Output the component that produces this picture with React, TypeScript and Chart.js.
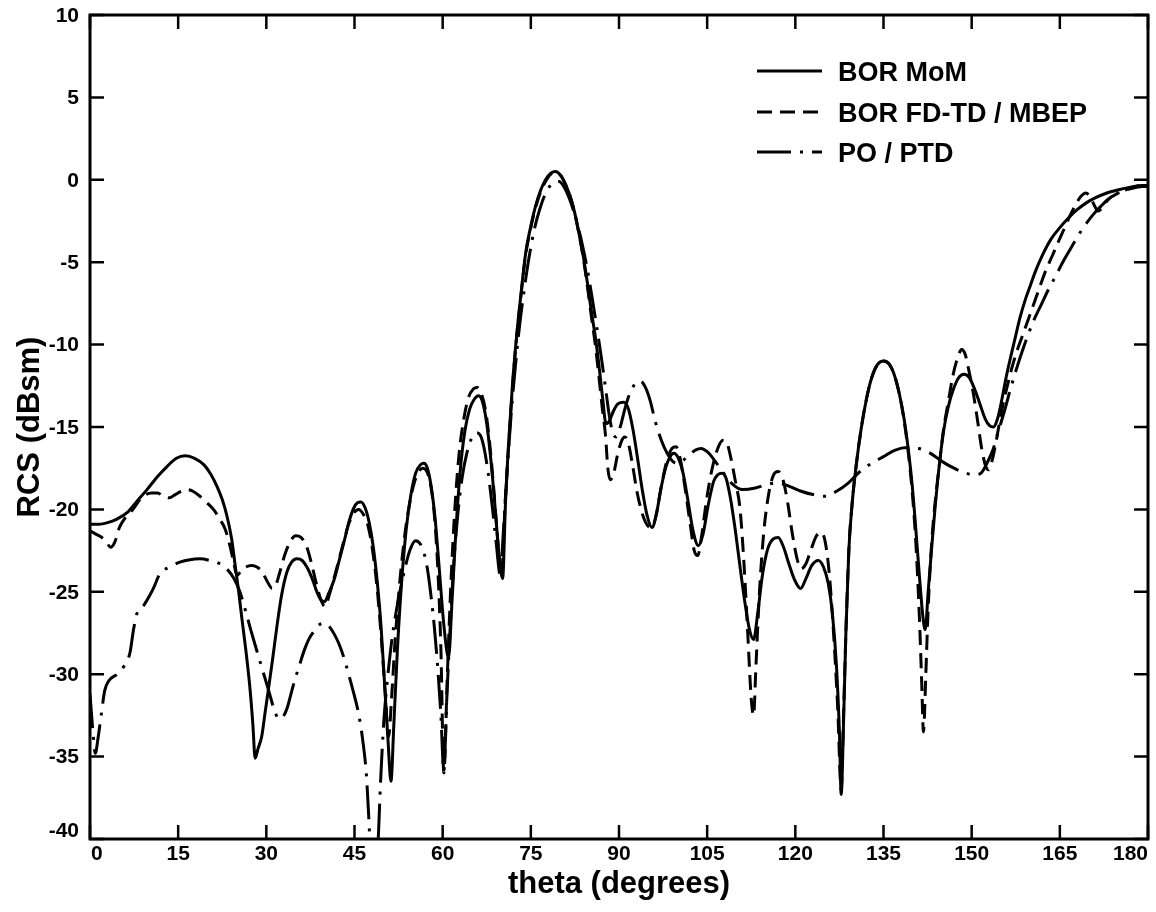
import React, { useEffect, useRef } from 'react';
import { Chart, registerables } from 'chart.js';

Chart.register(...registerables);

// ---------------- DATA ----------------
const xTicks = [0, 15, 30, 45, 60, 75, 90, 105, 120, 135, 150, 165, 180];
const yTicks = [10, 5, 0, -5, -10, -15, -20, -25, -30, -35, -40];
const xTitle = 'theta (degrees)';
const yTitle = 'RCS (dBsm)';
const seriesNames = ['BOR MoM', 'BOR FD-TD / MBEP', 'PO / PTD'];

// BOR MoM (solid)
const thetaMoM = [
  0, 1.5, 3, 4.5, 6.3, 8, 9.7, 11.5, 13.1, 14.7, 16.2, 17.8, 19.4, 20.6, 21.6, 22.5, 23.3, 24.1, 24.7, 25.3,
  25.8, 26.5, 27.2, 27.7, 28.1, 28.6, 29.2, 29.8, 30.4, 31.1, 31.8, 32.6, 33.5, 34.3, 35.2, 36.1, 36.9, 37.8, 38.6, 39.3,
  39.9, 40.6, 41.5, 42.4, 43.2, 44.1, 44.9, 45.5, 46.1, 46.8, 47.5, 48.2, 48.9, 49.5, 50.1, 50.7, 51.2, 51.7, 52.3, 53,
  53.8, 54.6, 55.4, 56.2, 56.8, 57.4, 58, 58.7, 59.4, 60.2, 61, 61.6, 62.3, 63, 63.8, 64.6, 65.4, 66.1, 66.8, 67.5,
  68.2, 68.9, 69.6, 70.2, 70.7, 71.3, 71.9, 72.6, 73.3, 74.1, 75, 75.8, 76.6, 77.5, 78.4, 79.2, 80, 80.8, 81.6, 82.4,
  83.1, 83.9, 84.6, 85.3, 86, 86.6, 87.2, 87.8, 88.4, 89.1, 89.8, 90.8, 91.6, 92.4, 93.2, 94, 94.8, 95.6, 96.3, 97.1,
  98, 98.7, 99.3, 100.1, 100.9, 101.7, 102.6, 103.5, 104.3, 105.2, 106.1, 106.8, 107.5, 108.2, 109, 109.8, 110.6, 111.4, 112.2, 112.9,
  113.6, 114.4, 115.3, 116.2, 117.1, 118, 118.9, 119.9, 120.9, 121.8, 122.8, 123.9, 124.8, 125.6, 126.3, 127, 127.5, 127.8, 128.2, 128.6,
  129.1, 129.7, 130.4, 131.2, 132.1, 133, 134, 135, 136, 136.9, 137.7, 138.5, 139.2, 139.9, 140.5, 141.1, 141.7, 142.1, 142.6, 143.2,
  143.8, 144.5, 145.2, 146, 146.9, 147.8, 148.7, 149.6, 150.5, 151.4, 152.3, 153, 153.7, 154.4, 155.1, 155.8, 156.6, 157.4, 158.2, 159.1,
  160, 160.8, 162, 163.5, 165, 166.5, 168, 169.5, 171, 173, 175, 177, 179, 180,
];
const rcsMoM = [
  -20.9, -20.9, -20.8, -20.6, -20.2, -19.5, -18.8, -18.0, -17.4, -16.9, -16.75, -16.9, -17.3, -17.9, -18.6, -19.4, -20.4, -21.8, -23.4, -25.0,
  -26.5, -28.5, -30.8, -33.0, -35.1, -34.5, -33.8, -32.3, -30.8, -29.0, -27.1, -25.2, -23.8, -23.2, -23.0, -23.1, -23.5, -24.2, -25.0, -25.5,
  -25.6, -25.1, -24.3, -23.1, -22.0, -20.7, -19.9, -19.6, -19.55, -19.9, -20.8, -22.3, -24.5, -27.0, -30.5, -34.0, -36.5, -33.0, -28.5, -24.5,
  -21.2, -19.1, -17.8, -17.3, -17.2, -17.5, -18.5, -20.5, -23.5, -27.0, -29.0, -25.5, -21.0, -17.6, -15.2, -13.9, -13.3, -13.1, -13.5, -14.8,
  -17.0, -19.8, -22.8, -24.2, -19.5, -15.5, -12.3, -9.4, -7.0, -4.5, -2.8, -1.6, -0.7, 0.0, 0.4, 0.5, 0.3, -0.2, -0.9, -1.9,
  -3.1, -4.6, -6.2, -8.0, -9.6, -11.3, -13.2, -14.8, -14.6, -14.0, -13.6, -13.5, -13.9, -15.2, -17.0, -18.9, -20.4, -21.1, -20.4, -18.8,
  -17.4, -16.8, -16.6, -16.9, -17.8, -19.4, -21.3, -22.2, -21.5, -19.7, -18.3, -17.9, -17.8, -18.1, -19.4, -21.3, -23.5, -25.6, -27.3, -27.9,
  -26.3, -24.0, -22.4, -21.8, -21.7, -22.3, -23.3, -24.3, -24.8, -24.2, -23.4, -23.1, -23.5, -24.5, -26.3, -29.5, -33.5, -37.3, -33.0, -27.5,
  -22.5, -19.5, -17.2, -15.1, -13.3, -12.0, -11.2, -11.0, -11.2, -11.9, -13.0, -14.5, -16.3, -18.6, -21.2, -24.0, -26.5, -27.3, -25.0, -22.3,
  -19.8, -17.3, -15.3, -13.8, -12.7, -12.0, -11.8, -12.0, -12.7, -13.6, -14.5, -14.9, -15.0, -14.5, -13.4, -12.1, -10.8, -9.6, -8.4, -7.3,
  -6.4, -5.6, -4.6, -3.6, -2.9, -2.3, -1.8, -1.4, -1.1, -0.8, -0.6, -0.45, -0.35, -0.35,
];

// BOR FD-TD / MBEP (dashed)
const thetaFDTD = [
  0, 1, 2, 2.8, 3.5, 4.2, 5, 5.8, 6.6, 7.5, 8.5, 9.5, 10.5, 11.5, 12.5, 13.5, 14.5, 15.5, 16.5, 17.5,
  18.7, 19.9, 21, 22.1, 23, 23.8, 24.5, 25, 25.6, 26.5, 27.5, 28.4, 29.3, 30.2, 31, 31.6, 32.3, 33.1, 34, 35,
  35.9, 36.9, 37.7, 38.5, 39.3, 40, 40.7, 41.5, 42.4, 43.2, 44.1, 44.9, 45.7, 46.5, 47.3, 48, 48.8, 49.5, 50.2, 50.8,
  51.3, 51.9, 52.6, 53.4, 54.2, 55, 55.8, 56.6, 57.3, 58, 58.6, 59.2, 59.7, 60.2, 60.8, 61.4, 62.1, 62.8, 63.6, 64.4,
  65.2, 65.9, 66.6, 67.3, 68, 68.7, 69.4, 70, 70.6, 71.3, 71.9, 72.6, 73.3, 74.1, 75, 75.8, 76.6, 77.5, 78.4, 79.2,
  80, 80.8, 81.6, 82.4, 83.1, 83.9, 84.6, 85.3, 86, 86.6, 87.2, 87.7, 88.1, 88.5, 89.1, 89.8, 90.5, 91, 91.6, 92.3,
  93.1, 94, 94.9, 95.6, 96.4, 97.2, 98.1, 99, 99.7, 100.4, 101.2, 102, 102.8, 103.4, 104.1, 104.9, 105.8, 106.8, 107.7, 108.4,
  109.1, 109.8, 110.6, 111.3, 111.9, 112.5, 112.9, 113.3, 113.9, 114.6, 115.4, 116.3, 117.1, 117.9, 118.7, 119.5, 120.3, 121, 121.8, 122.7,
  123.6, 124.4, 125.1, 125.8, 126.5, 127.2, 127.8, 128.2, 128.6, 129.1, 129.7, 130.4, 131.2, 132.1, 133, 134, 135, 136, 136.9, 137.7,
  138.5, 139.2, 139.9, 140.5, 141.1, 141.5, 141.8, 142.2, 142.6, 143.2, 143.8, 144.5, 145.2, 146, 146.8, 147.6, 148.3, 148.9, 149.6, 150.3,
  151, 151.7, 152.4, 152.9, 153.5, 154.2, 155, 155.8, 156.7, 157.6, 158.5, 159.4, 160.3, 161.3, 162.5, 163.6, 164.7, 165.7, 166.7, 167.7,
  168.6, 169.4, 170.1, 170.8, 171.5, 172.2, 173.2, 175, 177, 179, 180,
];
const rcsFDTD = [
  -21.3, -21.5, -21.7, -22.0, -22.3, -22.0, -21.1, -20.6, -20.3, -19.9, -19.4, -19.1, -19.0, -19.0, -19.2, -19.3, -19.1, -18.9, -18.8, -18.9,
  -19.2, -19.6, -20.0, -20.6, -21.2, -22.2, -23.3, -24.0, -23.8, -23.5, -23.4, -23.5, -23.8, -24.4, -24.8, -24.6, -23.8, -22.8, -22.0, -21.6,
  -21.7, -22.3, -23.3, -24.5, -25.5, -25.9, -25.2, -24.2, -23.0, -21.9, -20.8, -20.2, -20.0, -20.3, -21.0, -22.3, -24.6, -27.5, -31.0, -33.8,
  -31.5, -28.0, -24.8, -22.0, -20.0, -18.6, -17.8, -17.5, -17.7, -18.6, -20.4, -23.8, -28.5, -36.0, -30.0, -24.5, -19.8, -16.6, -14.5, -13.2,
  -12.7, -12.6, -13.0, -14.0, -16.0, -18.8, -22.0, -24.0, -19.8, -15.7, -12.5, -9.5, -7.1, -4.6, -2.9, -1.7, -0.8, -0.1, 0.35, 0.45,
  0.3, -0.2, -0.9, -1.9, -3.1, -4.7, -6.4, -8.3, -10.1, -12.0, -14.0, -15.5, -17.5, -18.2, -17.8, -16.6, -15.8, -15.6, -16.0, -17.3,
  -19.0, -20.3, -21.0, -21.1, -20.2, -18.6, -17.1, -16.3, -16.2, -16.9, -18.6, -20.6, -22.5, -22.8, -21.5, -19.4, -17.6, -16.3, -15.8, -16.0,
  -17.0, -18.3, -20.0, -23.5, -27.5, -31.5, -32.5, -29.5, -25.0, -21.5, -19.2, -17.9, -17.7, -18.2, -19.6, -21.5, -23.0, -23.6, -23.3, -22.4,
  -21.6, -21.4, -22.0, -24.0, -27.5, -32.0, -37.0, -32.5, -27.5, -22.5, -19.5, -17.2, -15.1, -13.3, -12.0, -11.2, -11.0, -11.2, -11.9, -13.0,
  -14.6, -16.5, -19.0, -22.0, -26.5, -30.5, -33.5, -30.0, -26.0, -22.0, -19.5, -17.3, -15.2, -13.5, -11.9, -10.8, -10.3, -10.6, -11.7, -13.0,
  -14.6, -16.3, -17.4, -17.6, -17.0, -15.8, -14.2, -12.9, -11.6, -10.5, -9.6, -8.7, -7.8, -6.8, -5.6, -4.7, -3.8, -3.0, -2.2, -1.5,
  -1.0, -0.8, -1.0, -1.5, -1.9, -1.7, -1.2, -0.8, -0.5, -0.35, -0.35,
];

// PO / PTD (dash-dot)
const thetaPO = [
  0, 0.5, 0.9, 1.4, 1.9, 2.5, 3.2, 4.6, 5.8, 6.8, 7.4, 8, 9, 10.2, 10.9, 11.9, 13.5, 15.3, 17, 18.7,
  20.4, 22.1, 23.5, 24.5, 25.5, 26.5, 27.5, 28.9, 30.4, 31.3, 32.1, 32.8, 33.5, 34.2, 34.8, 35.6, 36.4, 37.2, 38.1, 39,
  39.8, 40.7, 41.6, 42.4, 43.2, 44, 44.9, 45.7, 46.4, 47, 47.4, 47.8, 48.3, 48.8, 49.1, 49.4, 50, 50.7, 51.4, 52.5,
  53.7, 54.5, 55.4, 56.2, 56.8, 57.4, 58, 58.6, 59.2, 59.7, 60.2, 60.7, 61.3, 61.9, 62.6, 63.3, 64.1, 64.9, 65.7, 66.4,
  67, 67.7, 68.4, 69.1, 69.8, 70.3, 71, 71.7, 72.4, 73.1, 73.9, 74.7, 75.6, 76.5, 77.4, 78.2, 79, 79.8, 80.6, 81.4,
  82.2, 83, 83.8, 84.6, 85.4, 86.2, 87, 87.7, 88.3, 88.9, 89.5, 90.2, 91, 91.8, 92.7, 93.6, 94.5, 95.3, 96.2, 97.2,
  98.2, 99.2, 100.1, 101, 102, 103, 104, 105, 106, 107, 108, 109.4, 111, 113.2, 115, 117, 119, 121, 123, 125,
  127, 129, 131, 133, 135, 137, 139, 141, 143, 145, 147, 149, 150.5, 151.6, 152.6, 153.6, 154.6, 155.6, 156.6, 157.6,
  158.6, 159.6, 160.6, 161.8, 163, 164.2, 165.5, 166.8, 168.1, 169.4, 170.7, 172, 173.5, 175, 177, 179, 180,
];
const rcsPO = [
  -31.2, -33.5, -34.8, -33.8, -32.5, -31.0, -30.4, -30.0, -29.5, -28.7, -27.3, -26.3, -25.9, -25.2, -24.7, -23.9, -23.5, -23.2, -23.05, -23.0,
  -23.1, -23.3, -23.7, -24.2, -25.0, -26.2, -27.5, -29.2, -31.0, -32.1, -32.7, -32.6, -32.1, -31.2, -30.4, -29.5, -28.6, -27.9, -27.4, -27.0,
  -26.9, -27.1, -27.6, -28.2, -29.0, -30.0, -31.2, -32.4, -34.0, -36.0, -38.5, -41.5, -45.0, -41.5, -39.5, -36.8, -32.8, -30.0, -27.8, -25.4,
  -23.4, -22.4, -21.9, -22.1, -22.6, -23.6, -25.2, -27.2, -29.8, -32.5, -35.9, -31.5, -27.0, -23.2, -20.2, -18.1, -16.6, -15.7, -15.35, -15.5,
  -16.2, -17.7, -19.7, -22.0, -24.0, -21.5, -17.5, -14.0, -11.2, -8.8, -6.6, -4.7, -3.0, -1.8, -0.9, -0.4, -0.15, -0.1, -0.4, -1.0,
  -1.8, -2.8, -4.0, -5.4, -7.1, -8.9, -10.8, -12.6, -14.2, -15.3, -15.6, -15.0, -13.9, -13.0, -12.4, -12.2, -12.6, -13.4, -14.7, -15.8,
  -16.6, -17.1, -17.2, -17.0, -16.7, -16.4, -16.3, -16.5, -16.9, -17.4, -17.9, -18.5, -18.8, -18.7, -18.5, -18.4, -18.6, -18.9, -19.1, -19.2,
  -18.9, -18.4, -17.7, -17.2, -16.8, -16.4, -16.25, -16.3, -16.6, -17.1, -17.5, -17.8, -17.9, -17.8, -17.2, -16.4, -15.2, -14.0, -12.7, -11.5,
  -10.4, -9.4, -8.5, -7.6, -6.7, -5.9, -5.0, -4.2, -3.4, -2.7, -2.1, -1.6, -1.1, -0.8, -0.55, -0.4, -0.4,
];

const toPoints = (xs: number[], ys: number[]) => xs.map((x, i) => ({ x, y: ys[i] }));

const FONT = '"Liberation Sans", Arial, Helvetica, sans-serif';
const DASH = [15, 8];
const DASHDOT = [34, 9, 3, 9];

const decorPlugin = {
  id: 'decor',
  afterDatasetsDraw(chart: any) {
    const { ctx, chartArea: a, scales } = chart;
    const xs = scales.x;
    const ys = scales.y;
    ctx.save();
    ctx.setLineDash([]);
    ctx.strokeStyle = '#000';
    ctx.fillStyle = '#000';

    // frame
    ctx.lineWidth = 3;
    ctx.strokeRect(a.left, a.top, a.right - a.left, a.bottom - a.top);

    // inward ticks on all four sides
    const T = 14;
    ctx.lineWidth = 2.5;
    ctx.beginPath();
    xTicks.forEach((v) => {
      const px = xs.getPixelForValue(v);
      ctx.moveTo(px, a.bottom);
      ctx.lineTo(px, a.bottom - T);
      ctx.moveTo(px, a.top);
      ctx.lineTo(px, a.top + T);
    });
    yTicks.forEach((v) => {
      const py = ys.getPixelForValue(v);
      ctx.moveTo(a.left, py);
      ctx.lineTo(a.left + T, py);
      ctx.moveTo(a.right, py);
      ctx.lineTo(a.right - T, py);
    });
    ctx.stroke();

    // y tick labels
    ctx.font = `bold 21px ${FONT}`;
    ctx.textAlign = 'right';
    ctx.textBaseline = 'middle';
    yTicks.forEach((v, i) => {
      let py = ys.getPixelForValue(v);
      if (i === yTicks.length - 1) py -= 9;
      ctx.fillText(String(v), a.left - 11, py + 1);
    });

    // x tick labels (kept inside the frame's horizontal extent)
    ctx.font = `bold 21px ${FONT}`;
    ctx.textAlign = 'center';
    ctx.textBaseline = 'top';
    xTicks.forEach((v) => {
      const s = String(v);
      const w = ctx.measureText(s).width;
      let px = xs.getPixelForValue(v);
      px = Math.max(a.left + w / 2 + 1, Math.min(a.right - w / 2, px));
      ctx.fillText(s, px, a.bottom + 5);
    });

    // axis titles
    ctx.font = `bold 31px ${FONT}`;
    ctx.textAlign = 'center';
    ctx.textBaseline = 'middle';
    ctx.fillText(xTitle, (a.left + a.right) / 2, 884);
    ctx.save();
    ctx.translate(30, (a.top + a.bottom) / 2);
    ctx.rotate(-Math.PI / 2);
    ctx.fillText(yTitle, 0, 0);
    ctx.restore();

    // legend
    const rows = [73, 114, 154];
    const dashes = [[], DASH, DASHDOT];
    ctx.font = `bold 27px ${FONT}`;
    ctx.textAlign = 'left';
    ctx.textBaseline = 'middle';
    seriesNames.forEach((name, i) => {
      const y = rows[i];
      ctx.lineWidth = 3;
      ctx.setLineDash(dashes[i]);
      ctx.beginPath();
      ctx.moveTo(757, y - 2);
      ctx.lineTo(822, y - 2);
      ctx.stroke();
      ctx.setLineDash([]);
      ctx.fillText(name, 838, y + 1);
    });

    ctx.restore();
  },
};

export default function App() {
  const ref = useRef<HTMLCanvasElement | null>(null);

  useEffect(() => {
    document.body.style.margin = '0';
    const canvas = ref.current;
    if (!canvas) return;
    const common = {
      borderColor: '#000',
      backgroundColor: '#000',
      borderWidth: 3,
      pointRadius: 0,
      fill: false,
      cubicInterpolationMode: 'monotone' as const,
    };
    const chart = new Chart(canvas, {
      type: 'line',
      data: {
        datasets: [
          { ...common, label: seriesNames[0], data: toPoints(thetaMoM, rcsMoM) },
          { ...common, label: seriesNames[1], data: toPoints(thetaFDTD, rcsFDTD), borderDash: DASH },
          { ...common, label: seriesNames[2], data: toPoints(thetaPO, rcsPO), borderDash: DASHDOT },
        ],
      },
      options: {
        animation: false,
        responsive: true,
        maintainAspectRatio: false,
        events: [],
        layout: { padding: { left: 90, top: 15, right: 8, bottom: 73 } },
        plugins: { legend: { display: false }, tooltip: { enabled: false } },
        scales: {
          x: { type: 'linear', min: 0, max: 180, display: false },
          y: { type: 'linear', min: -40, max: 10, display: false },
        },
      },
      plugins: [decorPlugin],
    });
    return () => chart.destroy();
  }, []);

  return (
    <div style={{ width: 1156, height: 912, position: 'relative', background: '#fff' }}>
      <canvas ref={ref} />
    </div>
  );
}
